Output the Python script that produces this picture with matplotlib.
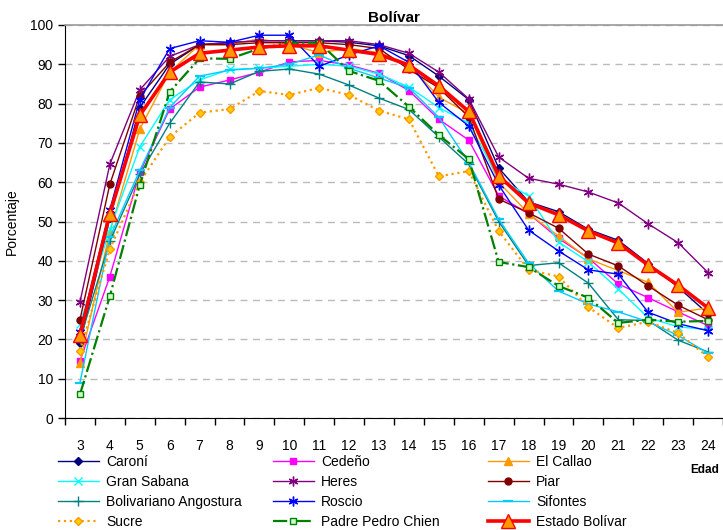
import matplotlib.pyplot as plt
from matplotlib.ticker import FixedLocator, NullFormatter

plt.rcParams['font.family'] = ['Liberation Sans', 'DejaVu Sans']

ages = list(range(3, 25))

# Porcentaje por municipio y edad
caroni = [19, 51, 79, 90, 95, 95.5, 96, 96, 96, 95.6, 94.7, 92.2, 87, 81, 63.6, 55, 52.5, 48, 45.2, 39.3, 33.3, 26.5]
cedeno = [14.5, 36, 62.5, 78.6, 84.2, 86, 88, 90.6, 91, 89.8, 87.7, 83.3, 76, 70.7, 56.5, 52, 45.7, 40.7, 34.1, 30.6, 27, 23.5]
el_callao = [14, 47.4, 73.5, 88, 95, 95, 96.5, 95, 93, 94, 93, 90, 81.6, 77.5, 60, 52, 46.3, 40.5, 37.5, 34.5, 26.9, 28]
gran_sabana = [24, 48, 69, 81, 86, 88.7, 89, 89.5, 90, 89.5, 87.5, 84.2, 79, 75, 61, 56.5, 44.8, 39.7, 32.8, 25.5, 23.2, 22.5]
heres = [29.5, 64.6, 83.5, 92, 95, 95.5, 96, 96, 96, 96, 95, 92.8, 88, 81.2, 66.4, 61, 59.5, 57.5, 54.7, 49.4, 44.6, 37]
piar = [25, 59.5, 82, 90.5, 95, 95, 95.5, 95.5, 95.5, 95, 94, 88.7, 84, 76.6, 55.7, 52.2, 48.3, 41.7, 38.7, 33.6, 28.7, 25]
bolivariano = [20, 45, 62, 75, 85.5, 85, 88.2, 88.8, 87.5, 84.7, 81.4, 78.5, 71.5, 64.6, 50, 38.8, 39.5, 34.3, 25, 24.8, 19.8, 16.8]
roscio = [22, 53, 81, 94, 96, 95.6, 97.4, 97.4, 89.5, 92.4, 94.7, 90.5, 80.3, 74.3, 59.3, 47.8, 42.5, 37.7, 36.6, 26.9, 24, 22.2]
sifontes = [9, 46, 63, 79, 87, 88.5, 89, 90, 92.4, 89, 86.5, 84, 76.5, 65, 50.6, 39.4, 32.3, 29, 27, 24.5, 21, 16.5]
sucre = [17, 43, 60, 71.5, 77.7, 78.6, 83.2, 82.2, 84, 82.2, 78.2, 76, 61.5, 62.8, 47.6, 37.7, 36, 28.2, 22.9, 24.5, 21.6, 15.5]
padre = [6, 31, 59.3, 83, 91.5, 91.4, 94, 95.5, 95.5, 88.3, 85.8, 79.2, 72, 65.9, 39.7, 38.4, 33.6, 30.6, 24.2, 25, 24.5, 24.7]
estado = [21, 52, 77, 88, 92.8, 93.6, 94.4, 94.7, 94.7, 93.6, 92.5, 89.8, 84.5, 78, 61.6, 54.7, 51.7, 47.6, 44.5, 38.9, 33.8, 28]

# (name, values, color, linestyle, marker, facecolor, markersize, lw)
series = [
    ('Caroní', caroni, '#000080', '-', 'D', '#000080', 4, 1.0),
    ('Cedeño', cedeno, '#FF00FF', '-', 's', '#FF00FF', 5, 1.0),
    ('El Callao', el_callao, '#FF9900', '-', '^', '#FF9900', 6, 1.0),
    ('Gran Sabana', gran_sabana, '#00FFFF', '-', 'x', '#00FFFF', 6, 1.0),
    ('Heres', heres, '#800080', '-', (6, 2, 0), '#800080', 7, 1.0),
    ('Piar', piar, '#800000', '-', 'o', '#800000', 5, 1.0),
    ('Bolivariano Angostura', bolivariano, '#008080', '-', '+', '#008080', 7, 1.0),
    ('Roscio', roscio, '#0000FF', '-', (6, 2, 0), '#0000FF', 7, 1.0),
    ('Sifontes', sifontes, '#00CCFF', '-', '_', '#00CCFF', 7, 1.0),
    ('Sucre', sucre, '#FF9900', ':', 'D', '#FFCC00', 4, 1.6),
    ('Padre Pedro Chien', padre, '#008000', '-.', 's', '#CCFFCC', 5, 1.6),
    ('Estado Bolívar', estado, '#FF0000', '-', '^', '#FF9900', 10, 2.6),
]

fig = plt.figure(figsize=(7.23, 5.30), dpi=100)
ax = fig.add_axes([65 / 723, 1 - 418 / 530, 658 / 723, 393 / 530])

handles = {}
for name, vals, col, ls, mk, fc, ms, lw in series:
    mew = 1.6 if mk == '_' else 1.0
    ln, = ax.plot(ages, vals, color=col, ls=ls, lw=lw, marker=mk, ms=ms,
                  mfc=fc, mec=col if name != 'Estado Bolívar' else '#FF0000',
                  mew=mew, label=name, zorder=3 if name != 'Estado Bolívar' else 4)
    handles[name] = ln

ax.set_xlim(2.5, 24.5)
ax.set_ylim(0, 100)
ax.set_yticks(range(0, 101, 10))
ax.xaxis.set_major_locator(FixedLocator([a + 0.5 for a in range(2, 25)]))
ax.xaxis.set_major_formatter(NullFormatter())
ax.xaxis.set_minor_locator(FixedLocator(ages))
ax.set_xticklabels([str(a) for a in ages], minor=True)
ax.tick_params(axis='x', which='major', direction='out', length=5, width=1, color='black')
ax.tick_params(axis='x', which='minor', length=0, pad=15, labelsize=10)
ax.tick_params(axis='y', direction='out', length=5, width=1, labelsize=10)

ax.grid(axis='y', color='#BBBBBB', ls=(0, (5, 4)), lw=1)
ax.set_axisbelow(True)
ax.spines['right'].set_visible(False)
ax.spines['top'].set_color('#999999')
ax.spines['top'].set_linewidth(1.2)

ax.set_title('Bolívar', fontsize=11, fontweight='bold', pad=2)
ax.set_ylabel('Porcentaje', fontsize=10, labelpad=8)
fig.text(705 / 723, 1 - 470 / 530, 'Edad', fontsize=8.5, fontweight='bold',
         ha='center', va='center')

# Excel-style legend: three fixed-width columns
names = [s[0] for s in series]
cols = [names[0::3], names[1::3], names[2::3]]
xs = [52, 267, 482]
for x0, group in zip(xs, cols):
    fig.legend([handles[n] for n in group], group, loc='upper left',
               bbox_to_anchor=(x0 / 723, 1 - 449 / 530), frameon=False,
               fontsize=10, handlelength=3.0, handletextpad=0.5,
               labelspacing=0.45, borderaxespad=0)

fig.savefig('out.png', dpi=100)
